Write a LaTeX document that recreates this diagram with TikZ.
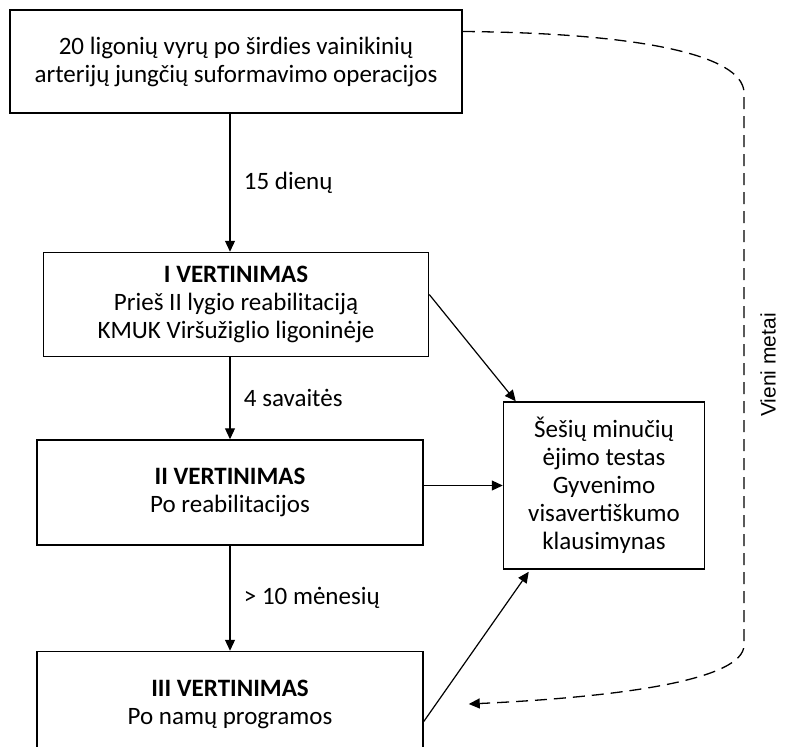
\documentclass[tikz,border=0pt]{standalone}
\usepackage{fontspec}
\setmainfont{Carlito}
\newfontfamily\sidefont{Liberation Sans}
\usetikzlibrary{positioning, arrows.meta}

\begin{document}
\begin{tikzpicture}[x=1pt, y=1pt, node distance=80pt,
    box/.style={draw, line width=1.5pt, align=center, inner sep=0pt,
      font=\fontsize{25}{28}\selectfont},
    arr/.style={-{Triangle[length=11pt, width=10pt]}, line width=1.2pt},
    lbl/.style={font=\fontsize{25}{28}\selectfont, anchor=west}]
    \useasboundingbox (0,0) rectangle (786,-746);
    % Nodes
    \node[box, minimum width=452pt, minimum height=103pt] (start) at (236,-61.5) {20 ligonių vyrų po širdies vainikinių\\arterijų jungčių suformavimo operacijos};
    \node[box, minimum width=385pt, minimum height=104pt, below=138pt of start] (eval1) {\textbf{I VERTINIMAS}\\Prieš II lygio reabilitaciją\\KMUK Viršužiglio ligoninėje};
    \node[box, minimum width=386pt, minimum height=105pt, below=82pt of eval1, xshift=-6pt] (eval2) {\textbf{II VERTINIMAS}\\Po reabilitacijos};
    \node[box, minimum width=386pt, minimum height=105pt, below=105pt of eval2] (eval3) {\textbf{III VERTINIMAS}\\Po namų programos};
    \node[box, minimum width=201pt, minimum height=167pt, right=79pt of eval2, yshift=7pt] (tests) {Šešių minučių\\ėjimo testas\\Gyvenimo\\visavertiškumo\\klausimynas};
    \coordinate[right=45pt of eval3] (back);
    \node[font=\sidefont\fontsize{21}{24}\selectfont, rotate=90] (year) at (768,-365) {Vieni metai};

    % Edges
    \draw[arr] (start.south -| eval2.north) -- node[lbl, xshift=10pt] {15 dienų} (eval1.north -| eval2.north);
    \draw[arr] (eval1.south -| eval2.north) -- node[lbl, xshift=10pt] {4 savaitės} (eval2.north);
    \draw[arr] (eval2.south) -- node[lbl, xshift=10pt] {> 10 mėnesių} (eval3.north);
    \draw[arr] ([yshift=10pt]eval1.east) -- ([xshift=13pt]tests.north west);
    \draw[arr] (eval2.east |- tests.west) -- (tests.west);
    \draw[arr] ([yshift=-17.5pt]eval3.east) -- ([xshift=26pt, yshift=-2pt]tests.south west);
    \draw[arr, line width=1.3pt, dash pattern=on 12pt off 7pt] ([yshift=30pt]start.east) .. controls (640,-33) and (742,-55) .. (744,-92)
        -- (744,-645) .. controls (744,-680) and (620,-697) .. (back);
\end{tikzpicture}
\end{document}
